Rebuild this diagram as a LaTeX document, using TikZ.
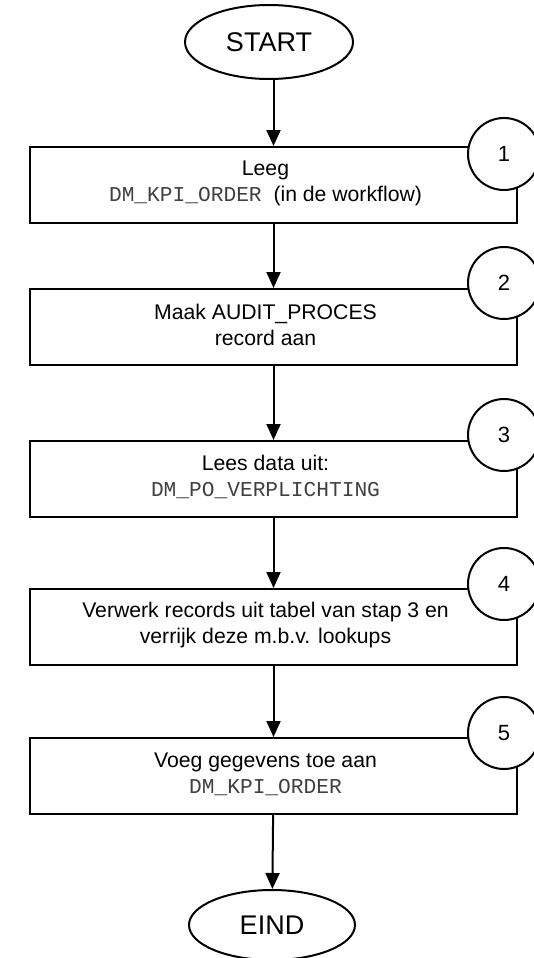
\documentclass[tikz,border=0pt]{standalone}
\usepackage{fontspec}
\setmainfont{Liberation Sans}
\setmonofont{Liberation Mono}
\usetikzlibrary{shapes.geometric,arrows.meta}
\newcommand{\tabnaam}[1]{{\color{black!75}\texttt{#1}}}

\begin{document}
\begin{tikzpicture}[x=1pt, y=-1pt, line width=2pt,
  eindpunt/.style={draw, ellipse, minimum width=168pt, minimum height=74pt, font=\fontsize{27}{32}\selectfont},
  stap/.style={draw, rectangle, minimum width=487pt, minimum height=76pt},
  staptekst/.style={align=center, xshift=-8pt, yshift=2pt, font=\fontsize{21.2}{26}\selectfont},
  nummer/.style={draw, circle, fill=white, minimum size=72pt, inner sep=0pt, font=\fontsize{22}{26}\selectfont},
  pijl/.style={-{Triangle[length=16pt,width=14pt]}}]
\useasboundingbox (0,0) rectangle (533,958);

% begin en eind
\node[eindpunt] (start) at (269,42) {START};
\node[eindpunt, minimum width=166pt, minimum height=70pt] (eind) at (272,925) {EIND};

% de stappen (tekst iets links van het midden)
\node[stap, label={[staptekst]center:{Leeg\\\tabnaam{DM\_KPI\_ORDER}\ \ (in de workflow)}}] (stap1) at (273.5,185) {};
\node[stap, label={[staptekst]center:{Maak AUDIT\_PROCES\\record aan}}] (stap2) at (273.5,327) {};
\node[stap, label={[staptekst]center:{Lees data uit:\\\tabnaam{DM\_PO\_VERPLICHTING}}}] (stap3) at (273.5,479) {};
\node[stap, label={[staptekst]center:{Verwerk records uit tabel van stap 3 en\\verrijk deze m.b.v. lookups}}] (stap4) at (273.5,627) {};
\node[stap, label={[staptekst]center:{Voeg gegevens toe aan\\\tabnaam{DM\_KPI\_ORDER}}}] (stap5) at (273.5,776) {};

% nummers
\node[nummer] (nr1) at (504,154) {1};
\node[nummer] (nr2) at (504,283) {2};
\node[nummer] (nr3) at (504,435) {3};
\node[nummer] (nr4) at (504,584) {4};
\node[nummer] (nr5) at (504,733) {5};

% pijlen
\draw[pijl] (start.south -| stap1.north) -- (stap1);
\draw[pijl] (stap1) -- (stap2);
\draw[pijl] (stap2) -- (stap3);
\draw[pijl] (stap3) -- (stap4);
\draw[pijl] (stap4) -- (stap5);
\draw[pijl] (stap5) -- (eind);
\end{tikzpicture}
\end{document}
